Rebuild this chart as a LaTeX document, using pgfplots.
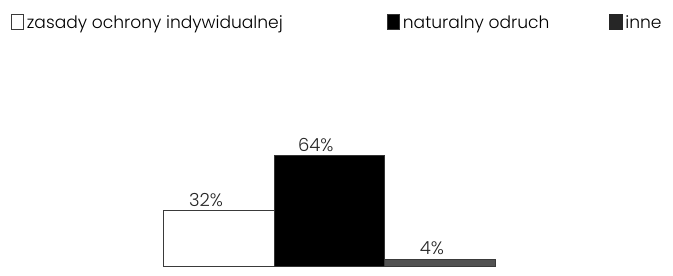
\documentclass[border=0pt]{standalone}
\usepackage{pgfplots}
\pgfplotsset{compat=1.18}
\usepackage{fontspec}
\setmainfont{Poppins}[UprightFont=* Light]
\definecolor{barg}{HTML}{525252}
\definecolor{edg}{HTML}{3A3A3A}
\newcommand\lt[1]{\raisebox{-3pt}{#1}}
\begin{document}
\begin{tikzpicture}[x=1pt,y=1pt]
\path[use as bounding box] (0,0) rectangle (673,276);
\begin{axis}[
  at={(0,0)}, anchor=south west,
  scale only axis, width=673pt, height=276pt,
  xmin=-1.982, xmax=4.109, ymin=-5.78, ymax=153.8,
  axis lines=none, clip=false,
  /pgf/number format/assume math mode=true,
  ybar, bar width=1, bar shift=0pt,
  nodes near coords={\pgfmathprintnumber{\pgfplotspointmeta}\%},
  nodes near coords style={font=\fontsize{18}{18}\selectfont, anchor=south east, inner sep=0pt, xshift=4.5pt, yshift=3.5pt, text=black!85},
  legend columns=3,
  legend image code/.code={\draw[#1] (0pt,-7.5pt) rectangle (12.5pt,7.5pt); \path[draw=none,fill=none] (0pt,0pt) -- (15.5pt,0pt);},
  legend style={at={(11/673,0.922)}, anchor=west, draw=none, fill=none, inner sep=0pt, outer sep=0pt,
    font=\fontsize{17.1}{17}\selectfont,
    nodes={inner sep=0pt, anchor=west},
    /tikz/every odd column/.style={column sep=0pt},
    /tikz/every even column/.style={column sep=0pt}},
]
\addplot[fill=white, draw=edg, line width=0.9pt] coordinates {(0,32)};
\addlegendentry{\lt{\makebox[360pt][l]{zasady ochrony indywidualnej}}}
\addplot[fill=black, draw=black!80, line width=0.9pt] coordinates {(1,64)};
\addlegendentry{\lt{\makebox[206pt][l]{naturalny odruch}}}
\addplot[fill=barg, draw=edg, line width=0.9pt,
  legend image code/.code={\draw[fill=black!85, draw=black!85] (0pt,-7.5pt) rectangle (13pt,7.5pt); \path[draw=none,fill=none] (0pt,0pt) -- (16pt,0pt);}] coordinates {(2,4)};
\addlegendentry{\lt{inne}}
\end{axis}
\end{tikzpicture}
\end{document}
